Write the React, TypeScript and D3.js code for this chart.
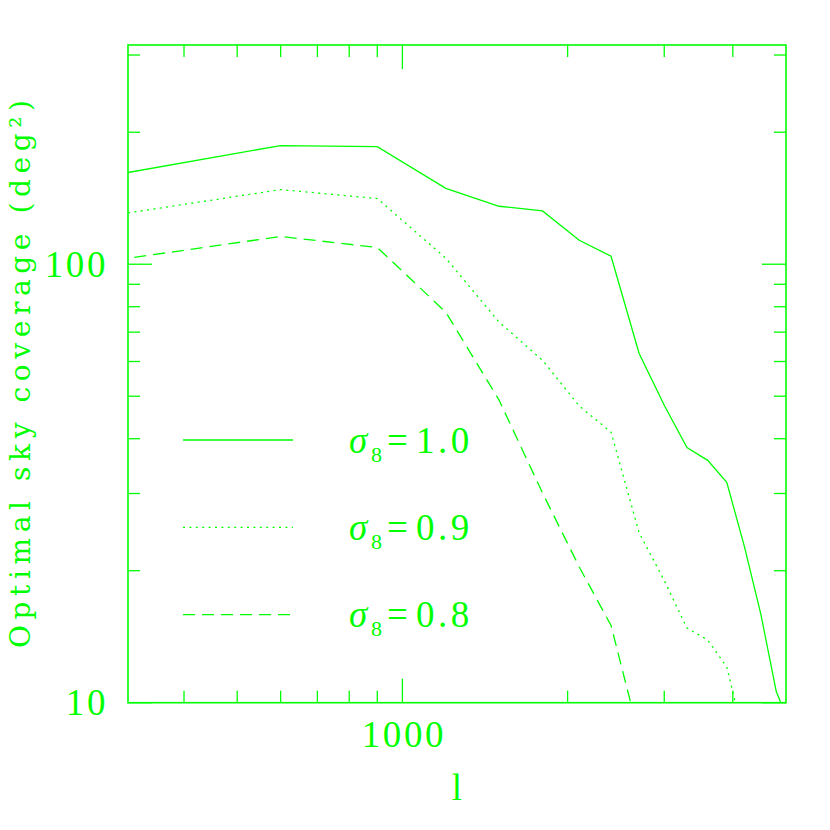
import React from "react";
import * as d3 from "d3";

const lValues = [300, 600, 900, 1200, 1500, 1800, 2100, 2400, 2700, 3000, 3300, 3600, 3900, 4200, 4500, 4800, 5100];
const sigma10 = [160, 186.5, 185.5, 149, 135.6, 132.3, 113.4, 104.3, 62.6, 47.7, 38.2, 35.7, 31.8, 22.7, 15.9, 10.6, 8.8];
const sigma09 = [129.6, 148, 141.2, 103.2, 73.8, 60.4, 47.5, 41.4, 24.4, 19.0, 14.8, 13.9, 12.06, 8.2];
const sigma08 = [102.2, 115.7, 109.2, 77.7, 49.0, 30.1, 20.4, 15.0, 8.4];

const seriesLabels = ["1.0", "0.9", "0.8"];
const xMajorTicks = [1000];
const xMinorTicks = [400, 500, 600, 700, 800, 900, 2000, 3000, 4000];
const yMajorTicks = [10, 100];
const yMinorTicks = [20, 30, 40, 50, 60, 70, 80, 90, 200, 300];
const xTickLabels = ["1000"];
const yTickLabels = ["10", "100"];

const GREEN = "#00ff00";
const FONT = "'Liberation Serif', serif";
const WIDE_FONT = "'DejaVu Serif', serif";

export default function App() {
  const left = 128, right = 786, top = 45, bottom = 702.7;
  const x = d3.scaleLog().domain([Math.pow(10, 2.5), 5000]).range([left, right]);
  const y = d3.scaleLog().domain([10, Math.pow(10, 2.5)]).range([bottom, top]);

  const line = d3
    .line<[number, number]>()
    .x((d) => x(d[0]))
    .y((d) => y(d[1]));

  const series = [
    { vals: sigma10, dash: undefined as string | undefined },
    { vals: sigma09, dash: "2,4.4" },
    { vals: sigma08, dash: "12,7" },
  ];

  const minor = 12, major = 24;

  const legendY = [440, 527.3, 614.7];

  return (
    <svg width={830} height={830} style={{ display: "block", position: "absolute", left: 0, top: 0 }}>
      <defs>
        <clipPath id="plotclip">
          <rect x={left} y={top} width={right - left} height={bottom - top} />
        </clipPath>
      </defs>
      <rect x={0} y={0} width={830} height={830} fill="white" />
      {/* frame */}
      <rect x={left} y={top} width={right - left} height={bottom - top} fill="none" stroke={GREEN} strokeWidth={1.6} />
      {/* x ticks */}
      {xMinorTicks.map((t) => (
        <g key={"xm" + t}>
          <line x1={x(t)} x2={x(t)} y1={bottom} y2={bottom - minor} stroke={GREEN} strokeWidth={1.3} />
          <line x1={x(t)} x2={x(t)} y1={top} y2={top + minor} stroke={GREEN} strokeWidth={1.3} />
        </g>
      ))}
      {xMajorTicks.map((t) => (
        <g key={"xM" + t}>
          <line x1={x(t)} x2={x(t)} y1={bottom} y2={bottom - major} stroke={GREEN} strokeWidth={1.3} />
          <line x1={x(t)} x2={x(t)} y1={top} y2={top + major} stroke={GREEN} strokeWidth={1.3} />
        </g>
      ))}
      {/* y ticks */}
      {yMinorTicks.map((t) => (
        <g key={"ym" + t}>
          <line x1={left} x2={left + minor} y1={y(t)} y2={y(t)} stroke={GREEN} strokeWidth={1.3} />
          <line x1={right} x2={right - minor} y1={y(t)} y2={y(t)} stroke={GREEN} strokeWidth={1.3} />
        </g>
      ))}
      {yMajorTicks.map((t) => (
        <g key={"yM" + t}>
          <line x1={left} x2={left + major} y1={y(t)} y2={y(t)} stroke={GREEN} strokeWidth={1.3} />
          <line x1={right} x2={right - major} y1={y(t)} y2={y(t)} stroke={GREEN} strokeWidth={1.3} />
        </g>
      ))}
      {/* tick labels */}
      {xMajorTicks.map((t, i) => (
        <text key={"xl" + t} x={x(t) + 1.5} y={747} textAnchor="middle" fontFamily={FONT} fontSize={37} letterSpacing={2.6} fill={GREEN}>
          {xTickLabels[i]}
        </text>
      ))}
      {yMajorTicks.map((t, i) => (
        <text key={"yl" + t} x={108} y={y(t) + 12.5} textAnchor="end" fontFamily={FONT} fontSize={37} letterSpacing={2.6} fill={GREEN}>
          {yTickLabels[i]}
        </text>
      ))}
      {/* axis titles */}
      <text x={457} y={800} textAnchor="middle" fontFamily={FONT} fontSize={37} fill={GREEN}>
        l
      </text>
      <text
        transform="translate(30,374) rotate(-90)"
        textAnchor="middle"
        fontFamily={WIDE_FONT}
        fontSize={28}
        fill={GREEN}
        textLength={548}
        lengthAdjust="spacing"
      >
        Optimal sky coverage (deg²)
      </text>
      {/* curves */}
      <g clipPath="url(#plotclip)">
        {series.map((s, i) => (
          <path
            key={"s" + i}
            d={line(s.vals.map((v, j) => [lValues[j], v] as [number, number])) || ""}
            fill="none"
            stroke={GREEN}
            strokeWidth={1.3}
            strokeDasharray={s.dash}
          />
        ))}
      </g>
      {/* legend */}
      {series.map((s, i) => (
        <g key={"lg" + i}>
          <line x1={183} x2={293} y1={legendY[i]} y2={legendY[i]} stroke={GREEN} strokeWidth={1.3} strokeDasharray={s.dash} />
          <text y={legendY[i] + 12.5} fontFamily={FONT} fontSize={37} fill={GREEN}>
            <tspan x={349} fontStyle="italic">σ</tspan>
            <tspan x={371} fontSize={22} dy={9}>8</tspan>
            <tspan x={387} dy={-9}>=</tspan>
            <tspan x={416} letterSpacing={3.5}>{seriesLabels[i]}</tspan>
          </text>
        </g>
      ))}
    </svg>
  );
}
